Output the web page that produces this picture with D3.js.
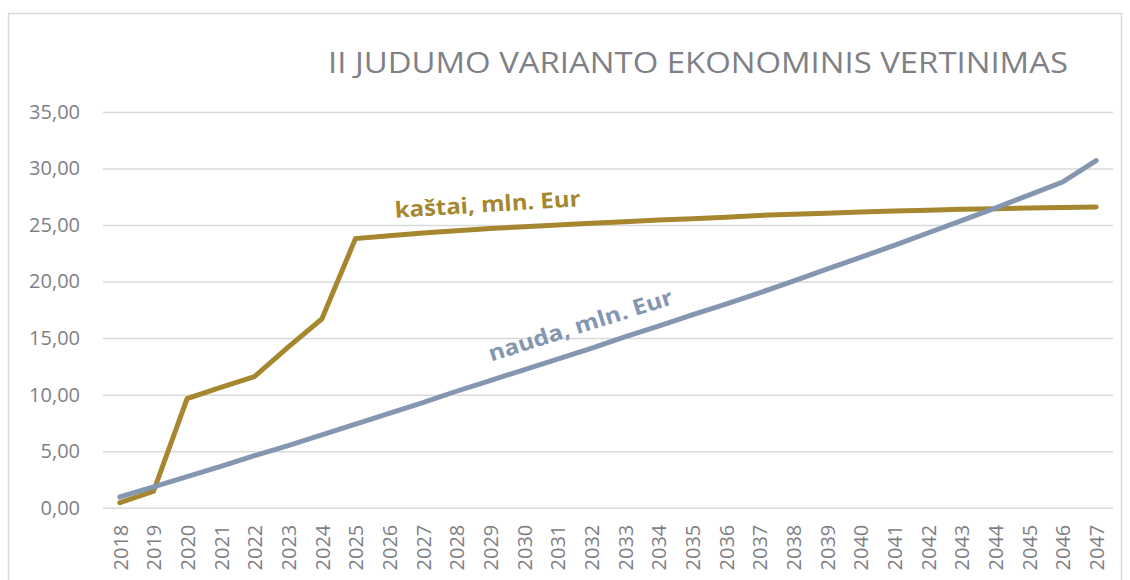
<!DOCTYPE html>
<html>
<head>
<meta charset="utf-8">
<script src="https://cdn.jsdelivr.net/npm/d3@7"></script>
<style>
  body { margin: 0; background: #fff; }
  text { font-family: "Open Sans", "Noto Sans", sans-serif; }
</style>
</head>
<body>
<div id="chart"></div>
<script>
// chart data
var years = ["2018","2019","2020","2021","2022","2023","2024","2025","2026","2027",
             "2028","2029","2030","2031","2032","2033","2034","2035","2036","2037",
             "2038","2039","2040","2041","2042","2043","2044","2045","2046","2047"];
var kastai = [0.45, 1.45, 9.65, 10.65, 11.6, 14.2, 16.7, 23.8, 24.05, 24.3,
              24.5, 24.7, 24.85, 25.0, 25.15, 25.3, 25.45, 25.55, 25.7, 25.85,
              25.95, 26.05, 26.15, 26.25, 26.3, 26.4, 26.45, 26.5, 26.55, 26.6];
var nauda = [0.95, 1.85, 2.75, 3.65, 4.6, 5.5, 6.45, 7.4, 8.35, 9.3,
             10.3, 11.25, 12.2, 13.15, 14.1, 15.1, 16.05, 17.05, 18.0, 19.0,
             20.05, 21.1, 22.15, 23.2, 24.3, 25.4, 26.5, 27.65, 28.8, 30.7];
var yTicks = [0, 5, 10, 15, 20, 25, 30, 35];
var title = "II JUDUMO VARIANTO EKONOMINIS VERTINIMAS";
var kastaiLabel = "kaštai, mln. Eur";
var naudaLabel = "nauda, mln. Eur";

var W = 1130, H = 580;
var margin = {top: 112, right: 17, bottom: 72.3, left: 103},
    width = W - margin.left - margin.right,
    height = H - margin.top - margin.bottom;

var svg = d3.select("#chart")
  .append("svg")
    .attr("width", W)
    .attr("height", H);

// outer frame
svg.append("rect")
  .attr("x", 8.5).attr("y", 13.5)
  .attr("width", 1113).attr("height", 620)
  .attr("fill", "none")
  .attr("stroke", "#d9d9d9")
  .attr("stroke-width", 1.5);

// title
svg.append("text")
  .attr("x", 328)
  .attr("y", 73)
  .attr("fill", "#808087")
  .style("font-size", "29px")
  .attr("textLength", 740)
  .attr("lengthAdjust", "spacingAndGlyphs")
  .text(title);

var g = svg.append("g")
  .attr("transform", "translate(" + margin.left + "," + margin.top + ")");

var x = d3.scalePoint()
  .domain(years)
  .range([0, width])
  .padding(0.5);

var y = d3.scaleLinear()
  .domain([0, 35])
  .range([height, 0]);

// gridlines + y labels
var yAxis = g.append("g")
  .call(d3.axisLeft(y)
    .tickValues(yTicks)
    .tickSize(-width)
    .tickPadding(23)
    .tickFormat(function(d) { return d3.format(".2f")(d).replace(".", ","); }));
yAxis.select(".domain").remove();
yAxis.selectAll(".tick line")
  .attr("stroke", "#d9d9d9")
  .attr("stroke-width", 1.5);
yAxis.selectAll(".tick text")
  .attr("fill", "#7f7f85")
  .style("font-size", "20px")
  .style("font-family", "'Open Sans', sans-serif");

// x labels
var xAxis = g.append("g")
  .attr("transform", "translate(0," + height + ")")
  .call(d3.axisBottom(x).tickSize(0).tickPadding(0));
xAxis.select(".domain").remove();
xAxis.selectAll(".tick text")
  .attr("fill", "#7f7f85")
  .style("font-size", "20px")
  .style("font-family", "'Open Sans', sans-serif")
  .attr("text-anchor", "end")
  .attr("transform", "rotate(-90)")
  .attr("x", -17)
  .attr("y", 0)
  .attr("dy", "0.36em");

// lines
var line = d3.line()
  .x(function(d, i) { return x(years[i]); })
  .y(function(d) { return y(d); });

g.append("path")
  .datum(kastai)
  .attr("fill", "none")
  .attr("stroke", "#a6872f")
  .attr("stroke-width", 5)
  .attr("stroke-linecap", "round")
  .attr("d", line);

g.append("path")
  .datum(nauda)
  .attr("fill", "none")
  .attr("stroke", "#8596b0")
  .attr("stroke-width", 5)
  .attr("stroke-linecap", "round")
  .attr("d", line);

// series labels
var kx = x("2026") + 6, ky = y(kastai[8]) - 18;
g.append("text")
  .attr("transform", "translate(" + kx + "," + ky + ") rotate(-3.6)")
  .attr("fill", "#a6872f")
  .style("font-size", "22px")
  .style("font-weight", "bold")
  .attr("textLength", 186)
  .attr("lengthAdjust", "spacingAndGlyphs")
  .text(kastaiLabel);

var nx = x("2029") + 1, ny = y(nauda[11]) - 19;
g.append("text")
  .attr("transform", "translate(" + nx + "," + ny + ") rotate(-17.5)")
  .attr("fill", "#8596b0")
  .style("font-size", "22px")
  .style("font-weight", "bold")
  .attr("textLength", 192)
  .attr("lengthAdjust", "spacingAndGlyphs")
  .text(naudaLabel);
</script>
</body>
</html>
